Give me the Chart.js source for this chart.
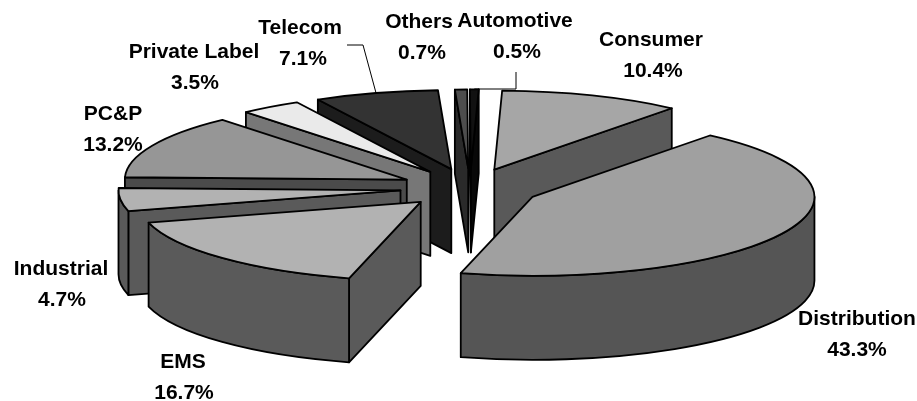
<!DOCTYPE html>
<html>
<head>
<meta charset="utf-8">
<style>
  html, body { margin: 0; padding: 0; background: #fff; }
  canvas { display: block; }
</style>
</head>
<body>
<canvas id="pieChart" width="917" height="401"></canvas>
<script src="https://cdn.jsdelivr.net/npm/chart.js@4"></script>
<script>
const segments = ['Consumer', 'Distribution', 'EMS', 'Industrial', 'PC&P', 'Private Label', 'Telecom', 'Others', 'Automotive'];
const shares = [10.4, 43.3, 16.7, 4.7, 13.2, 3.5, 7.1, 0.7, 0.5];
const topColors = ['#a6a6a6', '#a0a0a0', '#b2b2b2', '#b2b2b2', '#969696', '#eaeaea', '#333333', '#4d4d4d', '#111111'];
const sideColors = ['#595959', '#555555', '#5a5a5a', '#5a5a5a', '#4b4b4b', '#777777', '#1c1c1c', '#2a2a2a', '#080808'];

// label centres, one [x, y] per segment, name line then percent line
const labelSpots = [[651, 40], [857, 319], [183, 362], [61, 269], [113, 114], [194, 52], [300, 28], [419, 22], [515, 21]];
const percentNudge = [2, 0, 1, 1, 0, 1, 3, 3, 2];

const SQUASH = 0.28;   // tilt of the pie
const DEPTH = 84;      // wall height
const EXPLODE = 70;    // every slice is pulled out by this much

function sliceInfo(el) {
  const p = el.getProps(['x', 'y', 'startAngle', 'endAngle', 'outerRadius'], true);
  const mid = (p.startAngle + p.endAngle) / 2;
  const ox = p.x + Math.cos(mid) * EXPLODE;
  const oy = p.y + Math.sin(mid) * EXPLODE * SQUASH;
  return { el, p, mid, ox, oy };
}

function rimPoint(s, angle) {
  return [s.ox + Math.cos(angle) * s.p.outerRadius, s.oy + Math.sin(angle) * s.p.outerRadius * SQUASH];
}

function drawRadialFace(ctx, s, angle) {
  const [x, y] = rimPoint(s, angle);
  ctx.beginPath();
  ctx.moveTo(s.ox, s.oy);
  ctx.lineTo(x, y);
  ctx.lineTo(x, y + DEPTH);
  ctx.lineTo(s.ox, s.oy + DEPTH);
  ctx.closePath();
  ctx.fill();
  ctx.stroke();
}

function drawOuterWall(ctx, s) {
  // the rim only faces us on the lower half of the ellipse
  const TAU = Math.PI * 2;
  for (let k = -1; k <= 1; k++) {
    const a1 = Math.max(s.p.startAngle, k * TAU);
    const a2 = Math.min(s.p.endAngle, k * TAU + Math.PI);
    if (a2 <= a1) continue;
    const r = s.p.outerRadius;
    ctx.beginPath();
    ctx.ellipse(s.ox, s.oy, r, r * SQUASH, 0, a1, a2);
    ctx.ellipse(s.ox, s.oy + DEPTH, r, r * SQUASH, 0, a2, a1, true);
    ctx.closePath();
    ctx.fill();
    ctx.stroke();
  }
}

const pie3d = {
  id: 'pie3d',
  beforeDatasetsDraw(chart) {
    const ctx = chart.ctx;
    const slices = chart.getDatasetMeta(0).data.map((el, i) => Object.assign(sliceInfo(el), { i }));
    // back to front
    slices.sort((a, b) => a.oy - b.oy);
    ctx.save();
    ctx.lineJoin = 'round';
    ctx.lineWidth = 1.8;
    ctx.strokeStyle = '#000';
    slices.forEach(s => {
      ctx.fillStyle = sideColors[s.i];
      if (-Math.cos(s.p.startAngle) > 0) drawRadialFace(ctx, s, s.p.startAngle);
      if (Math.cos(s.p.endAngle) > 0) drawRadialFace(ctx, s, s.p.endAngle);
      drawOuterWall(ctx, s);

      ctx.save();
      ctx.translate(s.ox - s.p.x, s.oy);
      ctx.scale(1, SQUASH);
      ctx.translate(0, -s.p.y);
      s.el.draw(ctx);
      ctx.restore();

      const r = s.p.outerRadius;
      ctx.beginPath();
      ctx.moveTo(s.ox, s.oy);
      ctx.ellipse(s.ox, s.oy, r, r * SQUASH, 0, s.p.startAngle, s.p.endAngle);
      ctx.closePath();
      ctx.stroke();
    });
    ctx.restore();
    return false;
  },
  afterDraw(chart) {
    const ctx = chart.ctx;
    const arcs = chart.getDatasetMeta(0).data;
    ctx.save();
    ctx.fillStyle = '#000';
    ctx.font = 'bold 21px "Liberation Sans", Arial, sans-serif';
    ctx.textAlign = 'center';
    ctx.textBaseline = 'middle';
    segments.forEach((name, i) => {
      const [x, y] = labelSpots[i];
      ctx.fillText(name, x, y);
      ctx.fillText(shares[i].toFixed(1) + '%', x + percentNudge[i], y + 31);
    });

    // leader lines for the two labels that sit away from their slice
    ctx.strokeStyle = '#000';
    ctx.lineWidth = 1;
    const tel = sliceInfo(arcs[segments.indexOf('Telecom')]);
    const telEnd = rimPoint(tel, tel.mid);
    ctx.beginPath();
    ctx.moveTo(347, 45);
    ctx.lineTo(363, 45);
    ctx.lineTo(telEnd[0], telEnd[1]);
    ctx.stroke();
    const auto = sliceInfo(arcs[segments.indexOf('Automotive')]);
    const autoEnd = rimPoint(auto, auto.mid);
    ctx.beginPath();
    ctx.moveTo(516, 72);
    ctx.lineTo(516, 89);
    ctx.lineTo(autoEnd[0], 89);
    ctx.stroke();
    ctx.restore();
  }
};

new Chart(document.getElementById('pieChart').getContext('2d'), {
  type: 'pie',
  data: {
    labels: segments,
    datasets: [{
      data: shares,
      backgroundColor: topColors,
      borderWidth: 0
    }]
  },
  options: {
    responsive: false,
    animation: false,
    devicePixelRatio: 1,
    rotation: 1.6,
    radius: 282,
    layout: { padding: { left: 23, bottom: 25 } },
    plugins: {
      legend: { display: false },
      tooltip: { enabled: false }
    }
  },
  plugins: [pie3d]
});
</script>
</body>
</html>
